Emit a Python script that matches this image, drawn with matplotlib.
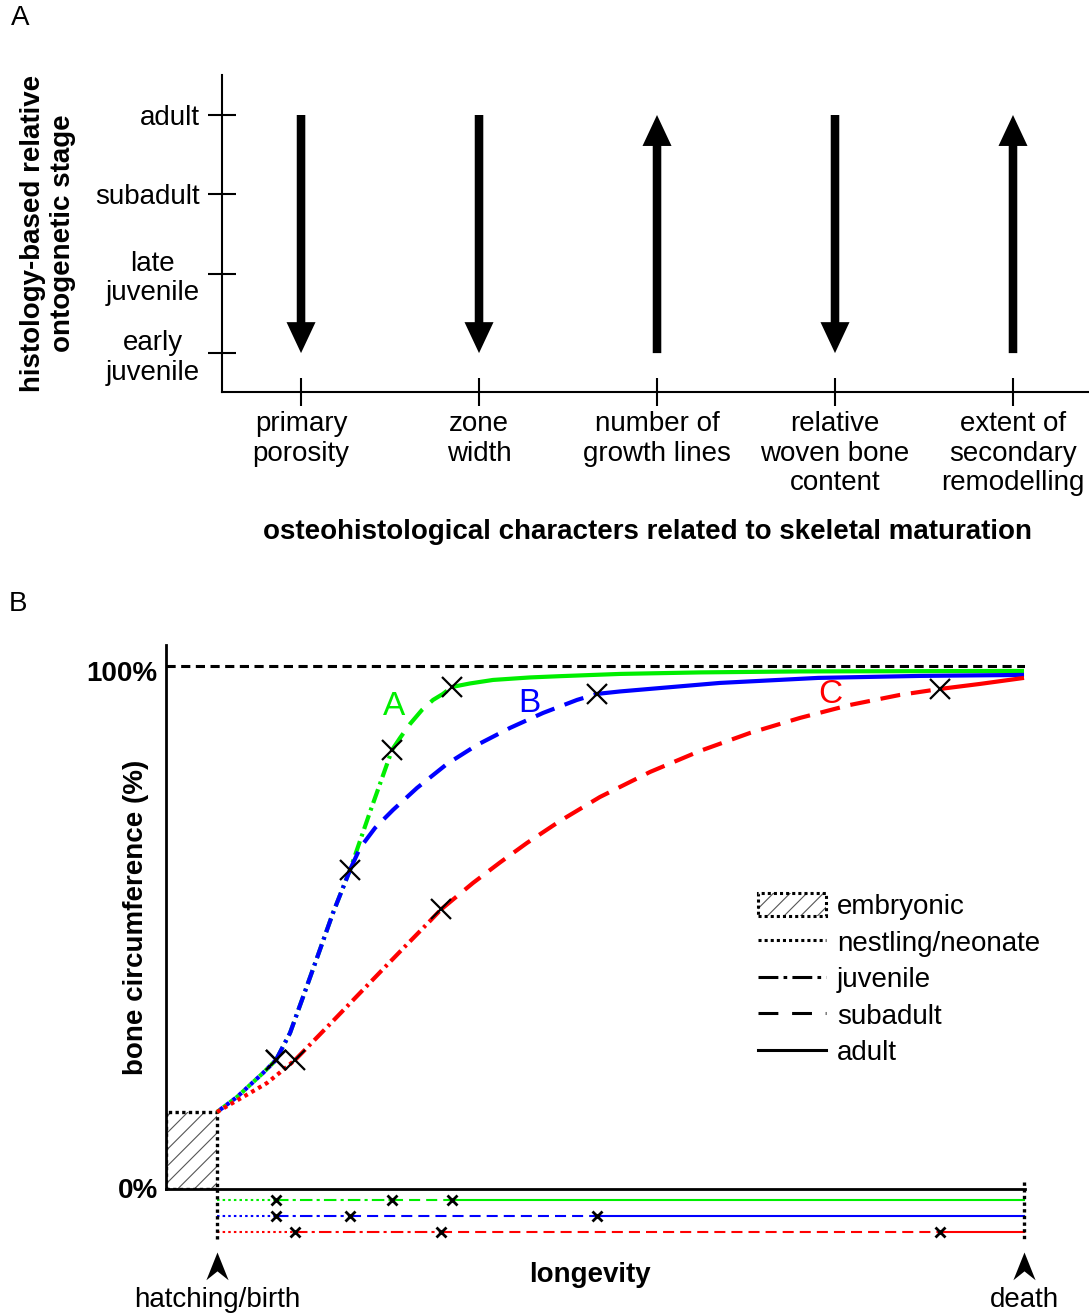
import numpy as np
import matplotlib
matplotlib.use('Agg')
import matplotlib.pyplot as plt
from matplotlib.patches import Rectangle, Patch
from matplotlib.lines import Line2D
from matplotlib.path import Path
from matplotlib.legend_handler import HandlerTuple
from matplotlib.transforms import ScaledTranslation

plt.rcParams['font.family'] = ['Liberation Sans', 'DejaVu Sans']
plt.rcParams['hatch.linewidth'] = 0.8

# ---------------- Panel A data ----------------
stage_labels = ['early\njuvenile', 'late\njuvenile', 'subadult', 'adult']
characters = ['primary\nporosity', 'zone\nwidth', 'number of\ngrowth lines',
              'relative\nwoven bone\ncontent', 'extent of\nsecondary\nremodelling']
trend = ['down', 'down', 'up', 'down', 'up']

# ---------------- Panel B data ----------------
# x: longevity (% of lifespan, 0 = hatching/birth, 100 = death)
# y: bone circumference (% of maximum)
A_x = [0, 2.48, 4.09, 5.70, 7.31, 9.05, 10.66, 12.39, 14.37, 16.48, 18.96, 21.69,
       22.68, 23.92, 25.40, 26.77, 28.00, 29.12, 31.35, 34.20, 38.79, 42.50, 49.94,
       59.85, 72.24, 100]
A_y = [14.72, 17.59, 19.89, 22.18, 24.67, 29.83, 36.71, 44.17, 52.77, 61.00, 72.08, 83.94,
       86.23, 88.91, 91.59, 93.50, 94.65, 95.98, 96.65, 97.32, 97.80, 98.04, 98.47,
       98.76, 98.95, 99.04]
A_breaks = [4, 11, 17]

B_x = [0, 2.48, 4.09, 5.70, 7.31, 9.05, 10.66, 12.39, 14.37, 16.48, 17.72, 19.58, 21.81,
       24.78, 28.50, 32.22, 36.31, 40.40, 44.61, 47.09, 49.94, 62.33, 74.50, 87.11, 100]
B_y = [14.72, 17.59, 19.89, 22.18, 24.67, 29.83, 36.71, 44.17, 52.77, 61.00, 65.20, 69.02, 72.47,
       76.67, 81.26, 84.89, 88.15, 91.01, 93.50, 94.65, 95.12, 96.75, 97.71, 98.09, 98.28]
B_breaks = [4, 9, 19]

C_x = [0, 1.61, 4.09, 6.20, 8.18, 9.67, 11.90, 14.37, 17.72, 21.07, 23.54, 26.39, 27.76,
       31.72, 35.07, 38.41, 42.50, 47.46, 53.66, 59.85, 66.05, 72.24, 78.44, 84.63, 89.59,
       94.55, 100]
C_y = [14.72, 16.16, 18.36, 20.27, 22.75, 24.67, 28.20, 32.12, 37.48, 42.83, 46.75, 51.24, 53.44,
       58.51, 62.43, 66.16, 70.36, 74.95, 79.73, 83.75, 87.19, 90.06, 92.54, 94.46, 95.60,
       96.56, 97.71]
C_breaks = [5, 12, 24]

curve_names = ['A', 'B', 'C']
curve_colors = ['#00ee00', '#0000ff', '#ff0000']
curve_label_pos = [(21.9, 92.2), (38.7, 92.9), (76.0, 94.5)]
embryo_top = 14.72
stage_names = ['embryonic', 'nestling/neonate', 'juvenile', 'subadult', 'adult']

# ---------------- Figure ----------------
W, H = 1089, 1315
fig = plt.figure(figsize=(W / 100, H / 100), dpi=100)

# ================= Panel A =================
axA = fig.add_axes([222 / W, 1 - 392 / H, (1089 - 222) / W, (392 - 75) / H])
axA.set_xlim(-0.444, 4.427)
axA.set_ylim(-0.49, 3.504)
for s in ['top', 'right']:
    axA.spines[s].set_visible(False)
for s in ['left', 'bottom']:
    axA.spines[s].set_linewidth(1.5)

ystages = np.arange(len(stage_labels))
xchars = np.arange(len(characters))
axA.set_yticks(ystages)
axA.set_yticklabels(stage_labels, fontsize=20, linespacing=1.17)
for t in axA.get_yticklabels():
    t.set_multialignment('center')
    if '\n' in t.get_text():
        t.set_transform(t.get_transform() + ScaledTranslation(0, 0.03, fig.dpi_scale_trans))
axA.set_xticks(xchars)
axA.set_xticklabels(characters, fontsize=20, linespacing=1.17)
axA.tick_params(axis='both', direction='inout', length=20, width=1.5)
axA.tick_params(axis='y', pad=6)
axA.tick_params(axis='x', pad=4)

lo, hi = ystages[0], ystages[-1]
for xi, d in zip(xchars, trend):
    start, end = (hi, lo) if d == 'down' else (lo, hi)
    axA.arrow(xi, start, 0, end - start, width=0.048, head_width=0.163,
              head_length=0.39, length_includes_head=True, color='black', lw=0)

axA.text(-0.2007, 0.5, 'histology-based relative\nontogenetic stage', transform=axA.transAxes,
         rotation=90, ha='center', va='center', fontsize=20, fontweight='bold',
         multialignment='center', linespacing=1.17)
axA.text(0.4913, -0.4416, 'osteohistological characters related to skeletal maturation',
         transform=axA.transAxes, ha='center', va='center', fontsize=20, fontweight='bold')

# ================= Panel B =================
axB = fig.add_axes([166 / W, 1 - 1189 / H, (1025 - 166) / W, (1189 - 645) / H])
embryo_start = -6.32
axB.set_xlim(embryo_start, 100.12)
axB.set_ylim(0, 104)
for s in ['top', 'right']:
    axB.spines[s].set_visible(False)
for s in ['left', 'bottom']:
    axB.spines[s].set_linewidth(2)
axB.set_xticks([])
axB.set_yticks([0, 100])
axB.set_yticklabels(['0%', '100%'], fontsize=20, fontweight='bold')
axB.tick_params(axis='y', length=0, pad=6)
ylabs = axB.get_yticklabels()
ylabs[1].set_transform(ylabs[1].get_transform() + ScaledTranslation(0, -0.05, fig.dpi_scale_trans))
ylabs[0].set_transform(ylabs[0].get_transform() + ScaledTranslation(0, 0.015, fig.dpi_scale_trans))

axB.axhline(100, color='black', lw=2.2, linestyle=(0, (3, 1.8)), zorder=2)

# embryonic box
axB.add_patch(Rectangle((embryo_start, 0), -embryo_start, embryo_top, facecolor='white',
                        edgecolor='#555555', hatch='//', lw=0, zorder=2))
axB.add_patch(Rectangle((embryo_start, 0), -embryo_start, embryo_top, fill=False,
                        edgecolor='black', lw=2.4, linestyle=(0, (1, 1)), zorder=3))

curve_styles = [(0, (0.9, 1.0)), (0, (3.5, 1.2, 0.7, 1.2)), (0, (4.8, 2.6)), '-']
bar_styles = [(0, (1.2, 1.5)), (0, (6, 2, 1.5, 2)), (0, (5.3, 2.9)), '-']
curves = [(A_x, A_y, A_breaks), (B_x, B_y, B_breaks), (C_x, C_y, C_breaks)]
lifeline_rows = [-2.1, -5.2, -8.2]

for ci, ((xs, ys, br), col) in enumerate(zip(curves, curve_colors)):
    xs = np.array(xs); ys = np.array(ys)
    bounds = [0] + br + [len(xs) - 1]
    for si in range(4):
        a, b = bounds[si], bounds[si + 1]
        ls = curve_styles[si]
        if si == 0 and ci == 1:
            ls = (1.0, (0.9, 1.0))
        axB.plot(xs[a:b + 1], ys[a:b + 1], color=col, lw=3, linestyle=ls,
                 solid_capstyle='butt', solid_joinstyle='round', zorder=4 + ci * 0.1)
        # lifeline bar
        row = lifeline_rows[ci]
        axB.plot([xs[a], xs[b]], [row, row], color=col, lw=1.5, linestyle=bar_styles[si],
                 clip_on=False, zorder=4)
    axB.plot(xs[br], ys[br], linestyle='none', marker='x', color='black', ms=14, mew=1.6, zorder=6)
    axB.plot(xs[br], [lifeline_rows[ci]] * len(br), linestyle='none', marker='x', color='black',
             ms=7, mew=2, clip_on=False, zorder=6)
    lx, ly = curve_label_pos[ci]
    axB.text(lx, ly, curve_names[ci], color=col, fontsize=24, ha='center', va='center', zorder=7)

# hatching/birth and death markers
axB.plot([0, 0], [0, -9.8], color='black', lw=2.4, linestyle=(0, (1, 1)), clip_on=False, zorder=5)
axB.plot([100, 100], [1.3, -10.1], color='black', lw=2.4, linestyle=(0, (1, 1)), clip_on=False, zorder=5)
arrow_path = Path([(0, 0), (-0.4, -1), (0, -0.68), (0.4, -1), (0, 0)],
                  [Path.MOVETO, Path.LINETO, Path.LINETO, Path.LINETO, Path.CLOSEPOLY])
axB.plot([0, 100], [-12.0, -12.0], linestyle='none', marker=arrow_path, ms=40,
         color='black', mec='black', mew=0, clip_on=False)
axB.text(0, -21.2, 'hatching/birth', ha='center', va='center', fontsize=20)
axB.text(100, -21.2, 'death', ha='center', va='center', fontsize=20)
axB.text(0.4936, -0.158, 'longevity', transform=axB.transAxes, ha='center', va='center',
         fontsize=20, fontweight='bold')
axB.text(-0.0345, 0.5, 'bone circumference (%)', transform=axB.transAxes, rotation=90,
         ha='center', va='center', fontsize=20, fontweight='bold')

# legend
emb_hatch = Patch(facecolor='white', edgecolor='#555555', hatch='//', lw=0)
emb_border = Patch(fill=False, edgecolor='black', lw=2.2, linestyle=(0, (1, 1)))
leg_handles = [(emb_hatch, emb_border),
               Line2D([], [], color='black', lw=2.2, linestyle=(0, (1, 1))),
               Line2D([], [], color='black', lw=2.2, linestyle=(0, (6.5, 1.7, 1.2, 1.7))),
               Line2D([], [], color='black', lw=2.2, linestyle=(0, (6.5, 4.5))),
               Line2D([], [], color='black', lw=2.2, linestyle='-')]
axB.legend(leg_handles, stage_names, loc='upper left', bbox_to_anchor=(0.689, 0.544),
           frameon=False, fontsize=20, handlelength=2.45, handleheight=0.9,
           handletextpad=0.4, labelspacing=0.34, borderpad=0, borderaxespad=0,
           handler_map={tuple: HandlerTuple(ndivide=1)})

fig.text(20 / W, 1 - 18 / H, 'A', fontsize=20, ha='center', va='center')
fig.text(18 / W, 1 - 604 / H, 'B', fontsize=20, ha='center', va='center')

fig.savefig('out.png', dpi=100)
